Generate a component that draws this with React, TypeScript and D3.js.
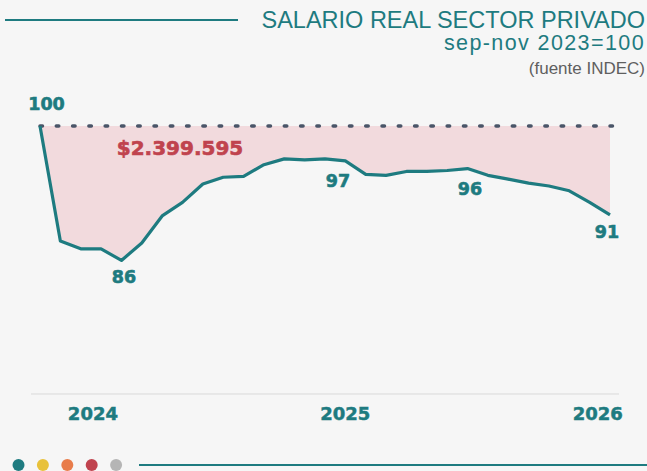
import React from "react";
import * as d3 from "d3";

const months: number[] = Array.from({ length: 29 }, (_, i) => i);
const salario: number[] = [
  100, 88.1, 87.3, 87.3, 86.1, 87.9, 90.7, 92.1, 94.0, 94.7, 94.8, 96.0, 96.6, 96.5,
  96.6, 96.4, 95.0, 94.9, 95.3, 95.3, 95.4, 95.6, 94.9, 94.5, 94.1, 93.8, 93.3, 92.1, 90.8,
];
const baseValue = 100;
const yearLabels = ["2024", "2025", "2026"];
const yearPositions = [2.6, 15.0, 27.4];
const pointLabels = [
  { idx: 0, text: "100", dx: 6.5, dy: -16 },
  { idx: 4, text: "86", dx: 2.6, dy: 22.6 },
  { idx: 15, text: "97", dx: -7.4, dy: 26 },
  { idx: 21, text: "96", dx: 2.4, dy: 26.5 },
  { idx: 28, text: "91", dx: -3, dy: 23 },
];
const gapLabel = "$2.399.595";
const dotColors = ["#1e7b80", "#e8c13a", "#e87c4a", "#c0434e", "#b5b5b5"];

const TEAL = "#1e7b80";

export default function App() {
  const W = 647, H = 471;
  const x = d3.scaleLinear().domain([0, 28]).range([40, 610]);
  const y = d3.scaleLinear().domain([100, 72]).range([126, 396.8]);

  const line = d3.line<number>().x((_, i) => x(months[i])).y((d) => y(d));
  const area = d3
    .area<number>()
    .x((_, i) => x(months[i]))
    .y0(() => y(baseValue))
    .y1((d) => y(d));

  const heavy = "'DejaVu Sans', sans-serif";
  const plain = "'Liberation Sans', Arial, sans-serif";

  const baseLen = x(28) - x(0);
  const period = baseLen / 35;
  const dash = 2.5;

  return (
    <div style={{ position: "fixed", left: 0, top: 0, width: W, height: H, background: "#f6f6f6" }}>
      <svg width={W} height={H} style={{ display: "block" }}>
        <rect x={0} y={0} width={W} height={H} fill="#f6f6f6" />
        {/* header */}
        <line x1={5} x2={238} y1={20} y2={20} stroke={TEAL} strokeWidth={2} />
        <text x={645} y={28} textAnchor="end" fill={TEAL} fontFamily={plain} fontSize={23.5}>
          SALARIO REAL SECTOR PRIVADO
        </text>
        <text x={645} y={50} textAnchor="end" fill={TEAL} fontFamily={plain} fontSize={21.5} letterSpacing={1.4}>
          sep-nov 2023=100
        </text>
        <text x={645} y={74} textAnchor="end" fill="#5f5f5f" fontFamily={plain} fontSize={17}>
          (fuente INDEC)
        </text>

        {/* area */}
        <path d={area(salario) || ""} fill="#f2dadd" />
        {/* base dashed line */}
        <line
          x1={x(0)}
          x2={x(28) + dash}
          y1={y(baseValue)}
          y2={y(baseValue)}
          stroke="#4a5568"
          strokeWidth={3.5}
          strokeLinecap="round"
          strokeDasharray={`${dash} ${period - dash}`}
        />
        {/* series line */}
        <path d={line(salario) || ""} fill="none" stroke={TEAL} strokeWidth={3.2} strokeLinejoin="round" />

        <text x={180} y={154.5} textAnchor="middle" fill="#c0434e" stroke="#c0434e" strokeWidth={0.6}
          fontFamily={heavy} fontWeight="bold" fontSize={20}>
          {gapLabel}
        </text>

        {pointLabels.map((p) => (
          <text
            key={p.text}
            x={x(months[p.idx]) + p.dx}
            y={y(salario[p.idx]) + p.dy}
            textAnchor="middle"
            fill={TEAL}
            stroke={TEAL}
            strokeWidth={0.6}
            fontFamily={heavy}
            fontWeight="bold"
            fontSize={17.5}
          >
            {p.text}
          </text>
        ))}

        {/* x axis */}
        <line x1={31} x2={619} y1={394} y2={394} stroke="#d9d9d9" strokeWidth={1} />
        {yearLabels.map((t, i) => (
          <text
            key={t}
            x={x(yearPositions[i])}
            y={420}
            textAnchor="middle"
            fill={TEAL}
            stroke={TEAL}
            strokeWidth={0.5}
            fontFamily={heavy}
            fontWeight="bold"
            fontSize={18}
          >
            {t}
          </text>
        ))}

        {/* footer */}
        {dotColors.map((c, i) => (
          <circle key={c} cx={18.5 + i * 24.4} cy={465} r={6} fill={c} />
        ))}
        <line x1={139} x2={647} y1={465} y2={465} stroke={TEAL} strokeWidth={2} />
      </svg>
    </div>
  );
}
